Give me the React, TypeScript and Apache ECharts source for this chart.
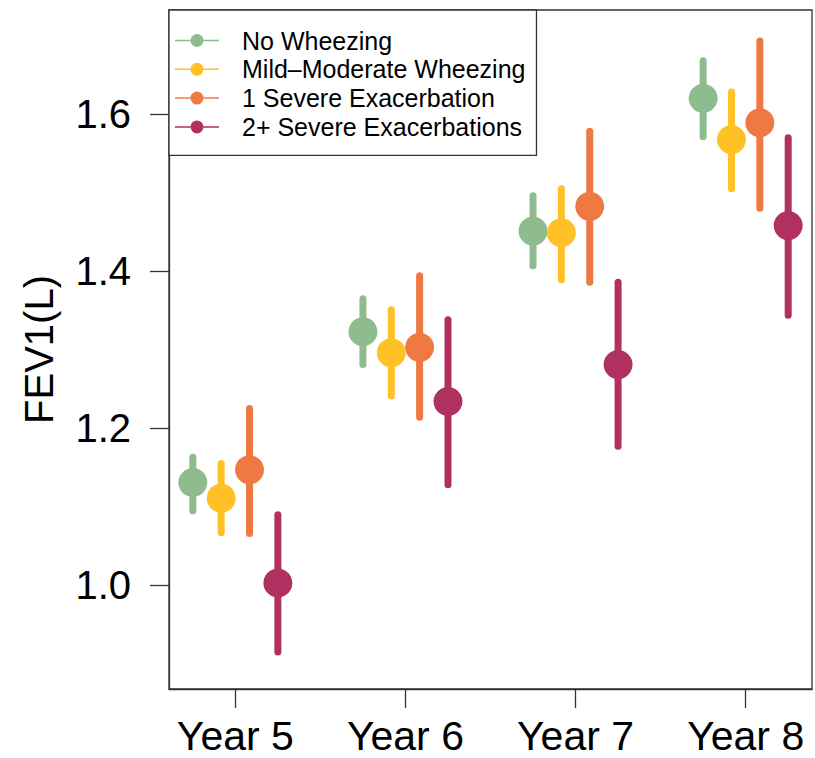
import React, { useEffect, useRef } from "react";
import * as echarts from "echarts";

const categories = ["Year 5", "Year 6", "Year 7", "Year 8"];
const groups = [
  "No Wheezing",
  "Mild\u2013Moderate Wheezing",
  "1 Severe Exacerbation",
  "2+ Severe Exacerbations",
];
const colors = ["#8FBC8F", "#FFC125", "#EE7942", "#B03060"];

const meanNoWheeze = [1.131, 1.323, 1.451, 1.62];
const meanMild = [1.111, 1.296, 1.449, 1.5675];
const meanOneSevere = [1.147, 1.303, 1.4825, 1.589];
const meanTwoSevere = [1.003, 1.234, 1.281, 1.458];

const lowNoWheeze = [1.095, 1.281, 1.407, 1.571];
const lowMild = [1.067, 1.241, 1.389, 1.505];
const lowOneSevere = [1.066, 1.214, 1.386, 1.48];
const lowTwoSevere = [0.915, 1.128, 1.177, 1.344];

const highNoWheeze = [1.163, 1.365, 1.496, 1.668];
const highMild = [1.155, 1.351, 1.505, 1.628];
const highOneSevere = [1.225, 1.394, 1.578, 1.693];
const highTwoSevere = [1.09, 1.338, 1.386, 1.57];

const yTicks = [1.0, 1.2, 1.4, 1.6];

const means = [meanNoWheeze, meanMild, meanOneSevere, meanTwoSevere];
const lows = [lowNoWheeze, lowMild, lowOneSevere, lowTwoSevere];
const highs = [highNoWheeze, highMild, highOneSevere, highTwoSevere];

const FONT = "Liberation Sans, Arial, Helvetica, sans-serif";
const AXIS_COLOR = "#333333";
const DODGE = 1 / 6;

const legendIcon =
  "path://M0,6.25 L15.5,6.25 L15.5,7.75 L0,7.75 Z M28.5,6.25 L44,6.25 L44,7.75 L28.5,7.75 Z M15.5,7 A6.5,6.5 0 1 1 28.5,7 A6.5,6.5 0 1 1 15.5,7 Z";

export default function App() {
  const ref = useRef<HTMLDivElement>(null);

  useEffect(() => {
    if (!ref.current) return;
    const chart = echarts.init(ref.current, null, { renderer: "svg" });
    const xPos = (yearIdx: number, g: number) =>
      yearIdx + 1 + (g - (groups.length - 1) / 2) * DODGE;

    const series: any[] = [];
    groups.forEach((name, g) => {
      const color = colors[g];
      series.push({
        name: name + " CI",
        type: "custom",
        encode: { x: 0, y: [1, 2] },
        data: categories.map((_, i) => [xPos(i, g), lows[g][i], highs[g][i]]),
        renderItem: (params: any, api: any) => {
          const x = api.value(0);
          const p1 = api.coord([x, api.value(1)]);
          const p2 = api.coord([x, api.value(2)]);
          return {
            type: "line",
            shape: { x1: p1[0], y1: p1[1], x2: p2[0], y2: p2[1] },
            style: { stroke: color, lineWidth: 7, lineCap: "round" },
          };
        },
      });
      series.push({
        name,
        type: "scatter",
        symbol: "circle",
        symbolSize: 29,
        itemStyle: { color, opacity: 1 },
        data: categories.map((_, i) => [xPos(i, g), means[g][i]]),
      });
    });

    chart.setOption({
      animation: false,
      backgroundColor: "#ffffff",
      grid: {
        left: 169,
        right: 3,
        top: 10,
        bottom: 69,
        show: true,
        borderColor: AXIS_COLOR,
        borderWidth: 1.3,
      },
      legend: {
        orient: "vertical",
        left: 169,
        top: 10,
        padding: [18, 11, 16, 6],
        itemGap: 3.8,
        itemWidth: 44,
        itemHeight: 13,
        borderColor: AXIS_COLOR,
        borderWidth: 1.3,
        backgroundColor: "#ffffff",
        textStyle: {
          fontSize: 25,
          fontFamily: FONT,
          color: "#000",
          lineHeight: 24,
          padding: [0, 0, 0, 18],
        },
        data: groups.map((name) => ({ name, icon: legendIcon })),
      },
      xAxis: {
        type: "value",
        min: 0.61,
        max: 4.39,
        splitLine: { show: false },
        axisLine: { show: true, onZero: false, lineStyle: { color: AXIS_COLOR, width: 1.3 } },
        axisTick: {
          show: true,
          length: 19,
          customValues: [1, 2, 3, 4],
          lineStyle: { color: AXIS_COLOR, width: 1.3 },
        },
        axisLabel: {
          customValues: [1, 2, 3, 4],
          formatter: (v: number) => categories[Math.round(v) - 1],
          fontSize: 41,
          fontFamily: FONT,
          color: "#000",
          margin: 26,
        },
      },
      yAxis: {
        type: "value",
        min: 0.868,
        max: 1.7325,
        splitLine: { show: false },
        axisLine: { show: true, onZero: false, lineStyle: { color: AXIS_COLOR, width: 1.3 } },
        axisTick: {
          show: true,
          length: 19,
          customValues: yTicks,
          lineStyle: { color: AXIS_COLOR, width: 1.3 },
        },
        axisLabel: {
          customValues: yTicks,
          formatter: (v: number) => v.toFixed(1),
          fontSize: 40,
          fontFamily: FONT,
          color: "#000",
          margin: 38,
        },
        name: "FEV1(L)",
        nameLocation: "middle",
        nameRotate: 90,
        nameGap: 110,
        nameTextStyle: { fontSize: 40, fontFamily: FONT, color: "#000" },
      },
      series,
    });
    return () => chart.dispose();
  }, []);

  return (
    <div
      ref={ref}
      style={{ position: "absolute", left: 0, top: 0, width: 815, height: 758 }}
    />
  );
}
